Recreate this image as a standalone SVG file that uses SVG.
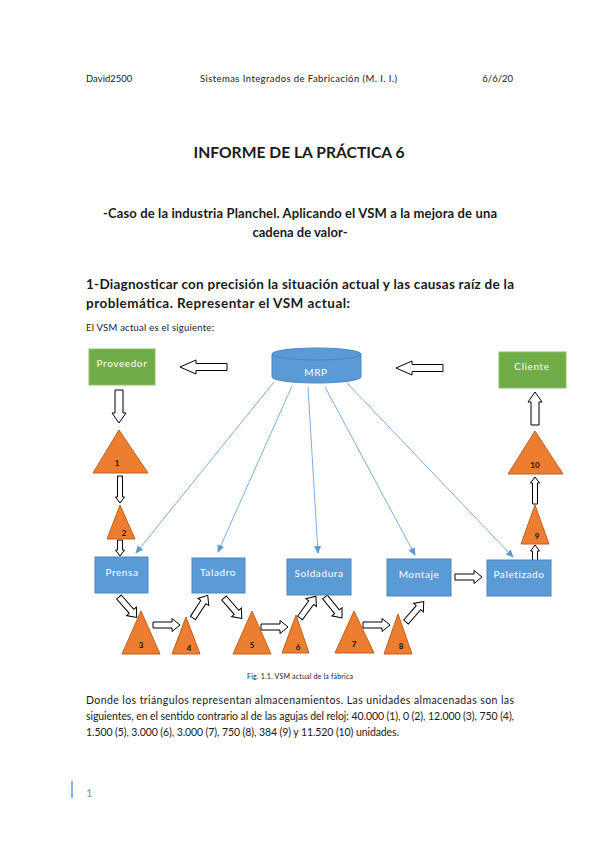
<svg xmlns="http://www.w3.org/2000/svg" xmlns:xlink="http://www.w3.org/1999/xlink" width="599" height="848" viewBox="0 0 599 848">
<style>
text{font-family:Lato,"Liberation Sans",sans-serif;fill:#1a1a1a}
.hd{font-size:9.5px}
.b{font-weight:bold}
.box{stroke-width:1}
.blue{fill:#5B9BD5;stroke:#4A86C5}
.green{fill:#70AD47;stroke:#8CC068}
.bt{fill:#fff;font-size:10px;letter-spacing:0.6px;text-anchor:middle}
.tri{fill:#ED7D31;stroke:#C0601E;stroke-width:1}
.tl{font-size:8px;font-weight:bold;text-anchor:middle;fill:#111}
.ha{fill:#fff;stroke:#000;stroke-width:1}
.ln{stroke:#7AAFE0;stroke-width:1;fill:none;marker-end:url(#ah)}
.p{font-size:10.5px}
</style>
<defs>
<marker id="ah" markerWidth="8" markerHeight="7" refX="7" refY="3.5" orient="auto" markerUnits="userSpaceOnUse">
<path d="M0,0 L8,3.5 L0,7 Z" fill="#5B9BD5"/>
</marker>
<path id="a27" d="M0,-3 H19 V-6.5 L27,0 L19,6.5 V3 H0 Z"/>
<path id="a47" d="M0,-3.5 H31 V-7 L47,0 L31,7 V3.5 H0 Z"/>
<path id="a33" d="M0,-4 H23 V-7 L33,0 L23,7 V4 H0 Z"/>
<path id="n27" d="M0,-2.5 H21 V-4.5 L27,0 L21,4.5 V2.5 H0 Z"/>
<path id="n16" d="M0,-2.5 H10 V-4.5 L16,0 L10,4.5 V2.5 H0 Z"/>
</defs>
<rect width="599" height="848" fill="#fff"/>

<!-- header -->
<text class="hd" x="86" y="82">David2500</text>
<text class="hd" x="200" y="82" textLength="197" lengthAdjust="spacing">Sistemas Integrados de Fabricación (M. I. I.)</text>
<text class="hd" x="513" y="82" text-anchor="end">6/6/20</text>

<text class="b" x="299" y="158" font-size="15.5" text-anchor="middle" textLength="211" lengthAdjust="spacingAndGlyphs">INFORME DE LA PRÁCTICA 6</text>
<text class="b" x="300" y="218" font-size="13" text-anchor="middle" textLength="394" lengthAdjust="spacing">-Caso de la industria Planchel. Aplicando el VSM a la mejora de una</text>
<text class="b" x="300" y="237" font-size="13" text-anchor="middle">cadena de valor-</text>

<text class="b" x="86" y="289" font-size="13.5" textLength="428" lengthAdjust="spacing">1-Diagnosticar con precisión la situación actual y las causas raíz de la</text>
<text class="b" x="86" y="308" font-size="13.5" textLength="264" lengthAdjust="spacing">problemática. Representar el VSM actual:</text>
<text class="hd" x="86" y="331" textLength="128" lengthAdjust="spacing">El VSM actual es el siguiente:</text>

<!-- connectors -->
<g id="connectors">
<line class="ln" x1="274" y1="382" x2="136" y2="553"/>
<line class="ln" x1="292" y1="386" x2="218" y2="552"/>
<line class="ln" x1="308" y1="387" x2="318" y2="553"/>
<line class="ln" x1="325" y1="387" x2="415" y2="555"/>
<line class="ln" x1="347" y1="383" x2="513" y2="557"/>
<use xlink:href="#a47" class="ha" transform="translate(227,367) rotate(180)"/>
<use xlink:href="#a47" class="ha" transform="translate(443,368) rotate(180)"/>
<use xlink:href="#a33" class="ha" transform="translate(119,390) rotate(90)"/>
<use xlink:href="#a33" class="ha" transform="translate(535,425) rotate(-90)"/>
<use xlink:href="#n27" class="ha" transform="translate(120,476) rotate(90)"/>
<use xlink:href="#n16" class="ha" transform="translate(120,540) rotate(90)"/>
<use xlink:href="#n27" class="ha" transform="translate(535,504) rotate(-90)"/>
<use xlink:href="#n16" class="ha" transform="translate(535,561) rotate(-90)"/>
<use xlink:href="#a27" class="ha" transform="translate(153,625)"/>
<use xlink:href="#a27" class="ha" transform="translate(261,627)"/>
<use xlink:href="#a27" class="ha" transform="translate(363,625)"/>
<use xlink:href="#a27" class="ha" transform="translate(455,577)"/>
<use xlink:href="#a27" class="ha" transform="translate(119,597) rotate(49)"/>
<use xlink:href="#a27" class="ha" transform="translate(193,618) rotate(-57)"/>
<use xlink:href="#a27" class="ha" transform="translate(224,598) rotate(49)"/>
<use xlink:href="#a27" class="ha" transform="translate(300,618) rotate(-54)"/>
<use xlink:href="#a27" class="ha" transform="translate(325,597) rotate(51)"/>
<use xlink:href="#a27" class="ha" transform="translate(406,622) rotate(-49)"/>
</g>

<!-- nodes -->
<g id="proveedor"><rect class="box green" x="89" y="349" width="66" height="36"/><text class="bt" x="122" y="367">Proveedor</text></g>
<g id="mrp">
<path d="M272,354 V377 A44.5,6 0 0 0 361,377 V354 Z" fill="#5B9BD5" stroke="#4A86C5"/>
<ellipse cx="316.5" cy="354" rx="44.5" ry="6" fill="#5B9BD5" stroke="#4A86C5"/>
<text class="bt" x="316" y="376" font-size="9">MRP</text>
</g>
<g id="cliente"><rect class="box green" x="499" y="352" width="67" height="36"/><text class="bt" x="532" y="370">Cliente</text></g>
<g id="prensa"><rect class="box blue" x="95" y="557" width="53" height="36"/><text class="bt" x="122" y="576">Prensa</text></g>
<g id="taladro"><rect class="box blue" x="192" y="558" width="53" height="35"/><text class="bt" x="218" y="576">Taladro</text></g>
<g id="soldadura"><rect class="box blue" x="287" y="559" width="64" height="36"/><text class="bt" x="319" y="577">Soldadura</text></g>
<g id="montaje"><rect class="box blue" x="387" y="559" width="64" height="37"/><text class="bt" x="419" y="578">Montaje</text></g>
<g id="paletizado"><rect class="box blue" x="487" y="560" width="64" height="36"/><text class="bt" x="519" y="578">Paletizado</text></g>

<g id="t1"><polygon class="tri" points="119,430 148,473 93,473"/><text class="tl" x="117" y="466">1</text></g>
<g id="t2"><polygon class="tri" points="120,505 135,539 107,539"/><text class="tl" x="124" y="536">2</text></g>
<g id="t3"><polygon class="tri" points="141,611 160,654 122,654"/><text class="tl" x="141" y="648">3</text></g>
<g id="t4"><polygon class="tri" points="186,617 200,654 172,654"/><text class="tl" x="189" y="651">4</text></g>
<g id="t5"><polygon class="tri" points="252,611 271,654 233,654"/><text class="tl" x="252" y="648">5</text></g>
<g id="t6"><polygon class="tri" points="296,615 309,653 282,653"/><text class="tl" x="298" y="650">6</text></g>
<g id="t7"><polygon class="tri" points="354,611 374,653 335,653"/><text class="tl" x="354" y="647">7</text></g>
<g id="t8"><polygon class="tri" points="398,614 412,654 384,654"/><text class="tl" x="401" y="649">8</text></g>
<g id="t9"><polygon class="tri" points="535,505 549,544 521,544"/><text class="tl" x="537" y="539">9</text></g>
<g id="t10"><polygon class="tri" points="535,431 563,474 508,474"/><text class="tl" x="535" y="468">10</text></g>

<text x="300" y="679" font-size="7" text-anchor="middle" textLength="106" lengthAdjust="spacing">Fig. 1.1. VSM actual de la fábrica</text>

<text class="p" x="86" y="704" textLength="428" lengthAdjust="spacing">Donde los triángulos representan almacenamientos. Las unidades almacenadas son las</text>
<text class="p" x="86" y="720" textLength="428" lengthAdjust="spacing">siguientes, en el sentido contrario al de las agujas del reloj: 40.000 (1), 0 (2), 12.000 (3), 750 (4),</text>
<text class="p" x="86" y="736" textLength="313" lengthAdjust="spacing">1.500 (5), 3.000 (6), 3.000 (7), 750 (8), 384 (9) y 11.520 (10) unidades.</text>

<line x1="72" y1="781" x2="72" y2="798" stroke="#5B9BD5" stroke-width="1.5"/>
<text x="86" y="797" font-size="11" style="fill:#5B9BD5">1</text>
</svg>
